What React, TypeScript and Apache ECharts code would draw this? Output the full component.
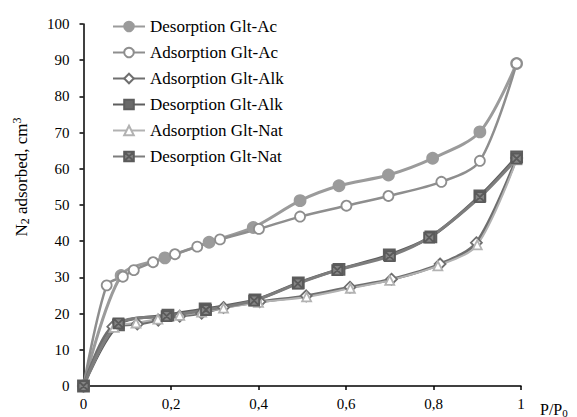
import React, { useEffect, useRef } from "react";
import * as echarts from "echarts";

const seriesNames = [
  "Desorption Glt-Ac",
  "Adsorption Glt-Ac",
  "Adsorption Glt-Alk",
  "Desorption Glt-Alk",
  "Adsorption Glt-Nat",
  "Desorption Glt-Nat",
];

const desAc = [
  [0, 0], [0.086, 30.5], [0.186, 35.4], [0.287, 39.7], [0.388, 43.8], [0.495, 51.2],
  [0.584, 55.3], [0.697, 58.3], [0.798, 62.9], [0.906, 70.2], [0.99, 89.1],
];
const adsAc = [
  [0, 0], [0.053, 27.8], [0.09, 30.2], [0.115, 32.0], [0.159, 34.2], [0.209, 36.4],
  [0.26, 38.5], [0.312, 40.5], [0.401, 43.4], [0.495, 46.8], [0.601, 49.8],
  [0.697, 52.5], [0.818, 56.4], [0.906, 62.2], [0.99, 89.1],
];
const adsAlk = [
  [0, 0], [0.067, 16.4], [0.123, 17.1], [0.171, 18.2], [0.22, 19.3], [0.27, 20.1],
  [0.32, 21.7], [0.403, 23.3], [0.509, 24.9], [0.609, 27.3], [0.704, 29.5],
  [0.815, 33.7], [0.898, 39.6], [0.99, 63.0],
];
const desAlk = [
  [0, 0], [0.08, 16.9], [0.193, 19.6], [0.278, 21.3], [0.392, 23.8], [0.491, 28.5],
  [0.584, 32.2], [0.699, 36.2], [0.794, 41.2], [0.906, 52.5], [0.99, 63.3],
];
const adsNat = [
  [0, 0], [0.07, 16.2], [0.12, 17.4], [0.17, 18.5], [0.22, 19.5], [0.27, 20.4],
  [0.32, 21.5], [0.4, 23.1], [0.51, 24.6], [0.61, 27.0], [0.7, 29.2],
  [0.81, 33.2], [0.9, 39.0], [0.99, 62.5],
];
const desNat = [
  [0, 0], [0.08, 17.3], [0.19, 19.3], [0.28, 21.0], [0.39, 23.6], [0.49, 28.3],
  [0.58, 32.0], [0.7, 35.9], [0.79, 41.0], [0.906, 52.2], [0.99, 62.8],
];

const xTicks = [0, 0.2, 0.4, 0.6, 0.8, 1];

const FONT = "'Liberation Serif', 'Times New Roman', serif";
const squareX = "path://M0,0H10V10H0Z M0,0L10,10 M10,0L0,10";

export default function App() {
  const ref = useRef<HTMLDivElement>(null);
  useEffect(() => {
    if (!ref.current) return;
    const chart = echarts.init(ref.current, null, { renderer: "svg" });
    const mk = (
      name: string,
      data: number[][],
      color: string,
      symbol: string,
      size: number,
      fill: string,
      border: string,
      width: number
    ) => ({
      name,
      type: "line",
      data,
      smooth: 0.3,
      symbol,
      symbolSize: size,
      showSymbol: true,
      lineStyle: { color, width },
      itemStyle: { color: fill, borderColor: border, borderWidth: 1.8 },
      z: 2,
    });
    chart.setOption({
      animation: false,
      backgroundColor: "#ffffff",
      textStyle: { fontFamily: FONT },
      grid: { left: 83.5, right: 56, top: 24, bottom: 31 },
      legend: {
        orient: "vertical",
        left: 112,
        top: 18,
        padding: 0,
        itemWidth: 32,
        itemHeight: 12,
        itemGap: 9,
        data: seriesNames,
        textStyle: { fontFamily: FONT, fontSize: 17, color: "#000" },
      },
      xAxis: {
        type: "value",
        min: 0,
        max: 1,
        interval: 0.2,
        splitLine: { show: false },
        axisLine: { lineStyle: { color: "#000", width: 1.5 } },
        axisTick: { show: true, length: 4, lineStyle: { color: "#000", width: 1.5 } },
        axisLabel: {
          fontFamily: FONT,
          fontSize: 15,
          color: "#000",
          margin: 10,
          formatter: (v: number) =>
            xTicks.includes(Math.round(v * 10) / 10) ? String(Math.round(v * 10) / 10).replace(".", ",") : "",
        },
      },
      yAxis: {
        type: "value",
        min: 0,
        max: 100,
        interval: 10,
        splitLine: { show: false },
        axisLine: { show: true, lineStyle: { color: "#000", width: 1.5 } },
        axisTick: { show: true, length: 4, lineStyle: { color: "#000", width: 1.5 } },
        axisLabel: { fontFamily: FONT, fontSize: 15, color: "#000", margin: 14 },
      },
      graphic: [
        {
          type: "text",
          x: 21,
          y: 177,
          rotation: Math.PI / 2,
          style: {
            text: "N{sub|2} adsorbed, cm{sup|3}",
            fontFamily: FONT,
            fontSize: 17,
            fill: "#000",
            align: "center",
            verticalAlign: "middle",
            rich: {
              sub: { fontSize: 12, fontFamily: FONT, verticalAlign: "bottom", padding: [8, 0, 0, 0] },
              sup: { fontSize: 12, fontFamily: FONT, verticalAlign: "top", padding: [0, 0, 8, 0] },
            },
          },
        },
        {
          type: "text",
          x: 540,
          y: 400,
          style: {
            text: "P/P{sub|0}",
            fontFamily: FONT,
            fontSize: 16,
            fill: "#000",
            rich: {
              sub: { fontSize: 11, fontFamily: FONT, verticalAlign: "bottom", padding: [7, 0, 0, 0] },
            },
          },
        },
      ],
      series: [
        mk(seriesNames[0], desAc, "#9b9b9b", "circle", 11, "#9b9b9b", "#9b9b9b", 3),
        mk(seriesNames[1], adsAc, "#8e8e8e", "circle", 10, "#ffffff", "#8e8e8e", 2.5),
        mk(seriesNames[2], adsAlk, "#6f6f6f", "diamond", 11, "#ffffff", "#6f6f6f", 3),
        mk(seriesNames[3], desAlk, "#5e5e5e", "rect", 11, "#6a6a6a", "#5e5e5e", 3),
        mk(seriesNames[4], adsNat, "#b2b2b2", "triangle", 9, "#ffffff", "#b2b2b2", 2),
        mk(seriesNames[5], desNat, "#7d7d7d", squareX, 10, "#858585", "#5a5a5a", 3),
      ],
    });
    return () => chart.dispose();
  }, []);
  return <div ref={ref} style={{ width: 577, height: 417, position: "absolute", left: 0, top: 0 }} />;
}
